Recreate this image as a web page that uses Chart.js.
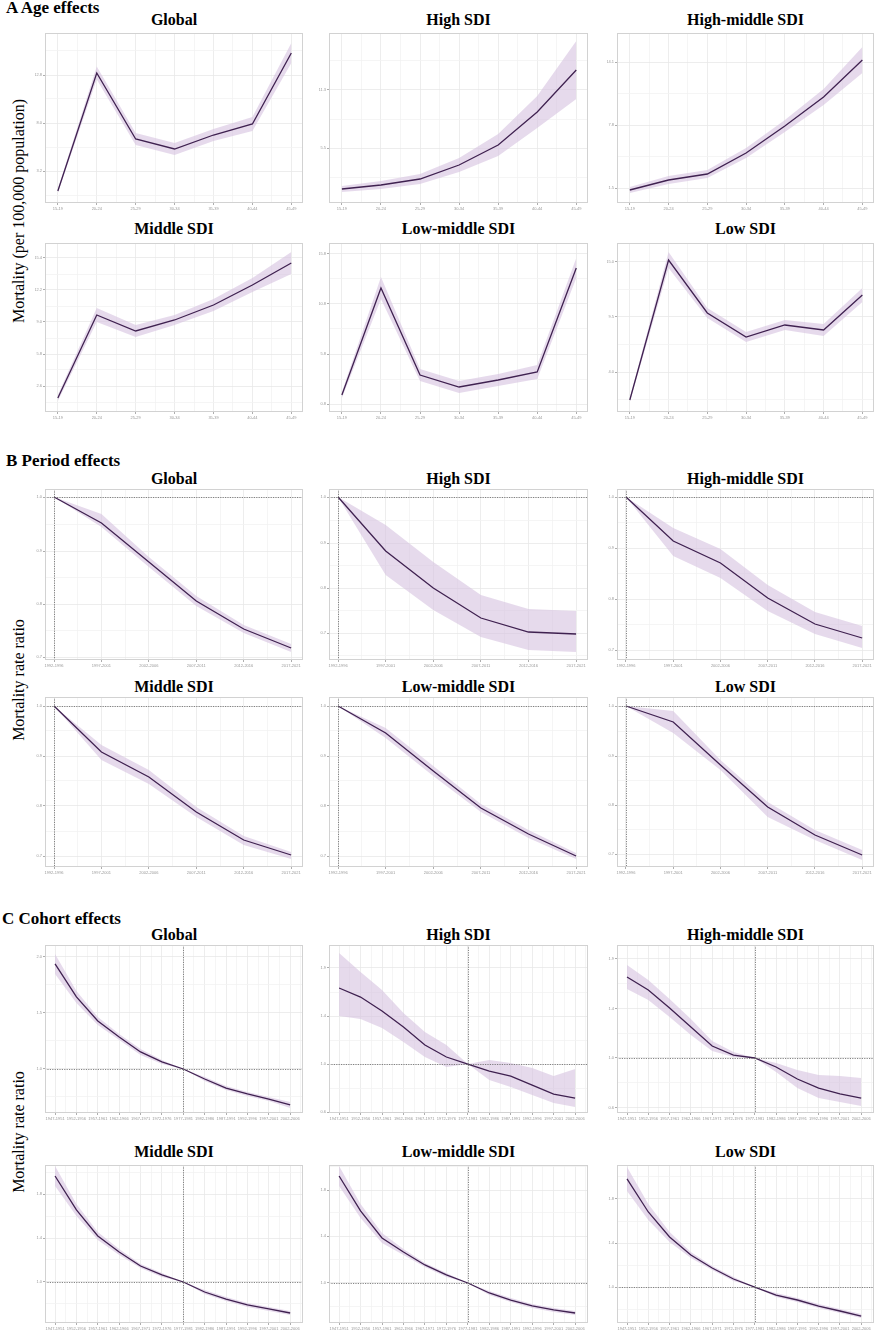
<!DOCTYPE html>
<html>
<head>
<meta charset="utf-8">
<script src="https://cdn.jsdelivr.net/npm/chart.js@4.4.1/dist/chart.umd.min.js"></script>
<style>
body { margin: 0; background: #fff; width: 878px; height: 1330px; position: relative; overflow: hidden;
       font-family: "Liberation Serif", "Times New Roman", serif; color: #000; }
.sec { position: absolute; font-weight: bold; font-size: 17px; line-height: 17px; white-space: nowrap; }
.ttl { position: absolute; font-weight: bold; font-size: 16px; line-height: 16px; text-align: center; white-space: nowrap; }
.ylab { position: absolute; font-size: 16px; line-height: 16px; white-space: nowrap;
        transform: translate(-50%, -50%) rotate(-90deg); }
canvas { position: absolute; }
</style>
</head>
<body>
<div class="sec" style="left:6px;top:-1px">A Age effects</div>
<div class="sec" style="left:6px;top:452px">B Period effects</div>
<div class="sec" style="left:2px;top:910px">C Cohort effects</div>
<div class="ylab" style="left:19px;top:211px">Mortality (per 100,000 population)</div>
<div class="ylab" style="left:19px;top:680px">Mortality rate ratio</div>
<div class="ylab" style="left:19px;top:1132px">Mortality rate ratio</div>
<script>
// labels
const regions = ['Global', 'High SDI', 'High-middle SDI', 'Middle SDI', 'Low-middle SDI', 'Low SDI'];
const ageGroups = ['15-19', '20-24', '25-29', '30-34', '35-39', '40-44', '45-49'];
const periods = ['1992-1996', '1997-2001', '2002-2006', '2007-2011', '2012-2016', '2017-2021'];
const cohorts = ['1947-1951', '1952-1956', '1957-1961', '1962-1966', '1967-1971', '1972-1976',
                 '1977-1981', '1982-1986', '1987-1991', '1992-1996', '1997-2001', '2002-2006'];

// A: age effects, mortality per 100,000 (estimate, lower, upper)
const ageGlobal = [1.2, 13.0, 6.4, 5.4, 6.8, 7.9, 15.0];
const ageGlobalLo = [1.0, 12.35, 5.8, 4.8, 6.2, 7.2, 14.0];
const ageGlobalHi = [1.4, 13.65, 7.0, 6.0, 7.4, 8.6, 16.0];
const ageHigh = [1.4, 1.8, 2.4, 3.8, 5.8, 9.1, 13.3];
const ageHighLo = [1.1, 1.4, 1.9, 3.1, 4.7, 7.5, 10.4];
const ageHighHi = [1.7, 2.2, 2.9, 4.5, 6.9, 10.7, 16.2];
const ageHighMid = [1.3, 2.3, 2.9, 5.0, 7.7, 10.6, 14.3];
const ageHighMidLo = [1.0, 1.9, 2.5, 4.5, 7.1, 9.8, 13.0];
const ageHighMidHi = [1.6, 2.7, 3.3, 5.5, 8.3, 11.4, 15.6];
const ageMiddle = [1.4, 9.7, 8.1, 9.2, 10.7, 12.7, 14.9];
const ageMiddleLo = [1.1, 9.0, 7.5, 8.7, 10.1, 12.0, 13.8];
const ageMiddleHi = [1.7, 10.4, 8.7, 9.7, 11.3, 13.4, 16.0];
const ageLowMid = [1.7, 12.4, 3.7, 2.5, 3.2, 4.0, 14.4];
const ageLowMidLo = [1.4, 11.3, 3.1, 1.9, 2.6, 3.3, 13.4];
const ageLowMidHi = [2.0, 13.5, 4.3, 3.1, 3.8, 4.7, 15.4];
const ageLow = [1.2, 15.2, 9.9, 7.5, 8.7, 8.2, 11.7];
const ageLowLo = [1.0, 14.4, 9.4, 7.0, 8.2, 7.6, 11.0];
const ageLowHi = [1.4, 16.0, 10.4, 8.0, 9.2, 8.8, 12.4];

// B: period effects, rate ratio
const perGlobal = [1.0, 0.948, 0.870, 0.792, 0.736, 0.698];
const perGlobalLo = [1.0, 0.940, 0.860, 0.782, 0.728, 0.690];
const perGlobalHi = [1.0, 0.966, 0.880, 0.802, 0.744, 0.706];
const perHigh = [1.0, 0.892, 0.818, 0.758, 0.730, 0.726];
const perHighLo = [1.0, 0.844, 0.774, 0.720, 0.694, 0.690];
const perHighHi = [1.0, 0.944, 0.870, 0.804, 0.776, 0.772];
const perHighMid = [1.0, 0.912, 0.868, 0.798, 0.746, 0.718];
const perHighMidLo = [1.0, 0.882, 0.838, 0.772, 0.726, 0.698];
const perHighMidHi = [1.0, 0.938, 0.896, 0.824, 0.770, 0.742];
const perMiddle = [1.0, 0.908, 0.858, 0.788, 0.732, 0.702];
const perMiddleLo = [1.0, 0.892, 0.844, 0.778, 0.722, 0.694];
const perMiddleHi = [1.0, 0.922, 0.872, 0.798, 0.740, 0.708];
const perLowMid = [1.0, 0.946, 0.870, 0.796, 0.744, 0.700];
const perLowMidLo = [1.0, 0.936, 0.860, 0.788, 0.736, 0.694];
const perLowMidHi = [1.0, 0.956, 0.880, 0.804, 0.752, 0.706];
const perLow = [1.0, 0.968, 0.882, 0.798, 0.742, 0.702];
const perLowLo = [1.0, 0.946, 0.872, 0.778, 0.732, 0.692];
const perLowHi = [1.0, 0.990, 0.892, 0.808, 0.752, 0.712];

// C: cohort effects, rate ratio
const cohGlobal = [1.955, 1.655, 1.436, 1.291, 1.155, 1.064, 1.0, 0.909, 0.827, 0.773, 0.727, 0.673];
const cohGlobalLo = [1.864, 1.600, 1.400, 1.264, 1.128, 1.046, 1.0, 0.891, 0.809, 0.755, 0.709, 0.646];
const cohGlobalHi = [2.046, 1.710, 1.472, 1.318, 1.182, 1.082, 1.0, 0.927, 0.845, 0.791, 0.745, 0.700];
const cohHigh = [1.691, 1.609, 1.482, 1.336, 1.173, 1.064, 1.0, 0.936, 0.891, 0.809, 0.727, 0.691];
const cohHighLo = [1.436, 1.409, 1.327, 1.200, 1.064, 0.973, 1.0, 0.855, 0.791, 0.718, 0.645, 0.609];
const cohHighHi = [2.009, 1.836, 1.673, 1.464, 1.291, 1.173, 1.0, 1.036, 1.009, 0.964, 0.891, 0.955];
const cohHighMid = [1.736, 1.618, 1.455, 1.282, 1.109, 1.027, 1.0, 0.918, 0.809, 0.727, 0.673, 0.636];
const cohHighMidLo = [1.627, 1.527, 1.373, 1.209, 1.064, 1.009, 1.0, 0.873, 0.727, 0.636, 0.600, 0.564];
const cohHighMidHi = [1.845, 1.709, 1.537, 1.355, 1.154, 1.054, 1.0, 0.955, 0.891, 0.845, 0.836, 0.818];
const cohMiddle = [1.964, 1.655, 1.418, 1.273, 1.145, 1.064, 1.0, 0.909, 0.845, 0.791, 0.755, 0.718];
const cohMiddleLo = [1.873, 1.600, 1.382, 1.246, 1.127, 1.046, 1.0, 0.891, 0.827, 0.773, 0.737, 0.700];
const cohMiddleHi = [2.055, 1.710, 1.454, 1.300, 1.163, 1.082, 1.0, 0.927, 0.863, 0.809, 0.773, 0.736];
const cohLowMid = [1.973, 1.655, 1.409, 1.282, 1.164, 1.073, 1.0, 0.909, 0.845, 0.791, 0.755, 0.727];
const cohLowMidLo = [1.882, 1.591, 1.364, 1.255, 1.146, 1.055, 1.0, 0.891, 0.827, 0.773, 0.737, 0.709];
const cohLowMidHi = [2.064, 1.719, 1.454, 1.309, 1.182, 1.091, 1.0, 0.927, 0.863, 0.809, 0.773, 0.745];
const cohLow = [1.982, 1.682, 1.455, 1.291, 1.173, 1.073, 1.0, 0.927, 0.882, 0.827, 0.782, 0.736];
const cohLowLo = [1.873, 1.609, 1.409, 1.264, 1.155, 1.055, 1.0, 0.909, 0.864, 0.809, 0.764, 0.718];
const cohLowHi = [2.091, 1.755, 1.500, 1.318, 1.191, 1.091, 1.0, 0.945, 0.900, 0.845, 0.800, 0.755];

// y tick values per panel
const ageTicks = [[3.2, 8.0, 12.8], [5.5, 11.3], [1.5, 7.8, 14.1], [2.6, 5.8, 9.0, 12.2, 15.4], [0.8, 5.8, 10.8, 15.8], [4.0, 9.5, 15.0]];
const perTicks = [[0.68, 0.786, 0.892, 1.0], [0.728, 0.818, 0.908, 1.0], [0.694, 0.796, 0.898, 1.0], [0.7, 0.8, 0.9, 1.0], [0.7, 0.8, 0.9, 1.0], [0.704, 0.802, 0.9, 1.0]];
const cohTicks = [[1.0, 1.509, 2.018], [0.564, 1.0, 1.436, 1.873], [0.55, 1.0, 1.45, 1.9], [1.0, 1.4, 1.8], [1.0, 1.427, 1.845], [1.0, 1.4, 1.8]];

// layout
const colX = [45, 329, 617];
const colW = [258, 259, 257];
const rowY = [33, 243, 489, 697, 945, 1165];
const rowH = [170, 169, 171, 170, 168, 158];
const titleY = [20, 229, 479, 687, 935, 1152];

const lineColor = '#3f2150';
const bandColor = 'rgba(214,196,224,0.62)';
Chart.defaults.font.family = '"Liberation Sans", Arial, sans-serif';

function refFrame(refX, refY) {
  return {
    id: 'refFrame',
    afterDatasetsDraw(chart) {
      const { ctx, chartArea: a, scales } = chart;
      ctx.save();
      ctx.strokeStyle = '#666';
      ctx.lineWidth = 0.8;
      ctx.setLineDash([1.2, 1.2]);
      if (refY !== null) {
        const y = Math.round(scales.y.getPixelForValue(refY)) + 0.5;
        ctx.beginPath(); ctx.moveTo(a.left, y); ctx.lineTo(a.right, y); ctx.stroke();
      }
      if (refX !== null) {
        const x = Math.round(scales.x.getPixelForValue(refX)) + 0.5;
        ctx.beginPath(); ctx.moveTo(x, a.top); ctx.lineTo(x, a.bottom); ctx.stroke();
      }
      ctx.setLineDash([]);
      ctx.strokeStyle = '#d2d2d2';
      ctx.lineWidth = 1;
      ctx.strokeRect(a.left + 0.5, a.top + 0.5, a.width - 1, a.height - 1);
      ctx.restore();
    }
  };
}

function withMinor(major, min, max) {
  const out = [];
  const step = major.length > 1 ? major[1] - major[0] : (max - min) / 2;
  const all = [major[0] - step / 2].concat(...major.map(v => [v, v + step / 2]));
  all.forEach((v, i) => {
    if (v >= min && v <= max) out.push({ value: v, minor: i % 2 === 0 });
  });
  return out;
}

function panel(row, col, labels, val, lo, hi, yTicks, xMin, xMax, yMin, yMax, refX, refY) {
  const x = colX[col], w = colW[col], y = rowY[row], h = rowH[row];
  const t = document.createElement('div');
  t.className = 'ttl';
  t.style.left = x + 'px';
  t.style.width = w + 'px';
  t.style.top = (titleY[row] - 8) + 'px';
  t.textContent = regions[(row % 2) * 3 + col];
  document.body.appendChild(t);

  const c = document.createElement('canvas');
  c.width = w + 11;
  c.height = h + 9;
  c.style.left = (x - 10) + 'px';
  c.style.top = (y - 1) + 'px';
  document.body.appendChild(c);

  const pts = arr => arr.map((v, i) => ({ x: i, y: v }));
  const xTicks = [];
  for (let i = 0; i < labels.length; i++) {
    xTicks.push({ value: i, minor: false });
    if (i + 0.5 <= xMax) xTicks.push({ value: i + 0.5, minor: true });
  }
  if (xMin <= -0.5) xTicks.unshift({ value: -0.5, minor: true });
  const gridColor = ctx => (ctx.tick && ctx.tick.minor) ? '#f3f3f3' : '#e8e8e8';
  const tickColor = ctx => (ctx.tick && ctx.tick.minor) ? 'rgba(0,0,0,0)' : '#999';

  new Chart(c, {
    type: 'line',
    data: {
      datasets: [
        { data: pts(val), borderColor: lineColor, borderWidth: 1.3, pointRadius: 0, fill: false, order: 0 },
        { data: pts(lo), borderWidth: 0, borderColor: 'rgba(0,0,0,0)', pointRadius: 0, fill: false, order: 2 },
        { data: pts(hi), borderWidth: 0, borderColor: 'rgba(0,0,0,0)', pointRadius: 0, fill: 1, backgroundColor: bandColor, order: 1 }
      ]
    },
    options: {
      responsive: false,
      animation: false,
      layout: { padding: { top: 1, right: 1, left: 0, bottom: 0 } },
      plugins: { legend: { display: false }, tooltip: { enabled: false } },
      scales: {
        x: {
          type: 'linear', min: xMin, max: xMax,
          afterBuildTicks: s => { s.ticks = xTicks.map(o => ({ ...o })); },
          afterFit: s => { s.height = 8; s.paddingLeft = 0; s.paddingRight = 0; },
          ticks: { font: { size: 4 }, color: '#999', padding: 1, maxRotation: 0, autoSkip: false,
                   callback: v => Number.isInteger(v) ? labels[v] : '' },
          grid: { color: gridColor, tickColor: tickColor, tickLength: 2, lineWidth: 0.8 },
          border: { display: false }
        },
        y: {
          min: yMin, max: yMax,
          afterBuildTicks: s => { s.ticks = withMinor(yTicks, yMin, yMax); },
          afterFit: s => { s.width = 10; s.paddingTop = 0; s.paddingBottom = 0; },
          ticks: { font: { size: 4 }, color: '#999', padding: 1, autoSkip: false,
                   callback: (v, i, ticks) => ticks[i].minor ? '' : v.toFixed(1) },
          grid: { color: gridColor, tickColor: tickColor, tickLength: 2, lineWidth: 0.8 },
          border: { display: false }
        }
      }
    },
    plugins: [refFrame(refX, refY)]
  });
}

// A
panel(0, 0, ageGroups, ageGlobal, ageGlobalLo, ageGlobalHi, ageTicks[0], -0.33, 6.3, 0, 17, null, null);
panel(0, 1, ageGroups, ageHigh, ageHighLo, ageHighHi, ageTicks[1], -0.33, 6.3, 0, 17, null, null);
panel(0, 2, ageGroups, ageHighMid, ageHighMidLo, ageHighMidHi, ageTicks[2], -0.33, 6.3, 0, 17, null, null);
panel(1, 0, ageGroups, ageMiddle, ageMiddleLo, ageMiddleHi, ageTicks[3], -0.33, 6.3, 0, 16.9, null, null);
panel(1, 1, ageGroups, ageLowMid, ageLowMidLo, ageLowMidHi, ageTicks[4], -0.33, 6.3, 0, 16.9, null, null);
panel(1, 2, ageGroups, ageLow, ageLowLo, ageLowHi, ageTicks[5], -0.33, 6.3, 0, 16.9, null, null);
// B
panel(2, 0, periods, perGlobal, perGlobalLo, perGlobalHi, perTicks[0], -0.19, 5.25, 0.674, 1.016, 0, 1);
panel(2, 1, periods, perHigh, perHighLo, perHighHi, perTicks[1], -0.19, 5.25, 0.674, 1.016, 0, 1);
panel(2, 2, periods, perHighMid, perHighMidLo, perHighMidHi, perTicks[2], -0.19, 5.25, 0.674, 1.016, 0, 1);
panel(3, 0, periods, perMiddle, perMiddleLo, perMiddleHi, perTicks[3], -0.19, 5.25, 0.678, 1.018, 0, 1);
panel(3, 1, periods, perLowMid, perLowMidLo, perLowMidHi, perTicks[4], -0.19, 5.25, 0.678, 1.018, 0, 1);
panel(3, 2, periods, perLow, perLowLo, perLowHi, perTicks[5], -0.19, 5.25, 0.678, 1.018, 0, 1);
// C
panel(4, 0, cohorts, cohGlobal, cohGlobalLo, cohGlobalHi, cohTicks[0], -0.47, 11.6, 0.6, 2.127, 6, 1);
panel(4, 1, cohorts, cohHigh, cohHighLo, cohHighHi, cohTicks[1], -0.47, 11.6, 0.555, 2.082, 6, 1);
panel(4, 2, cohorts, cohHighMid, cohHighMidLo, cohHighMidHi, cohTicks[2], -0.47, 11.6, 0.5, 2.027, 6, 1);
panel(5, 0, cohorts, cohMiddle, cohMiddleLo, cohMiddleHi, cohTicks[3], -0.47, 11.6, 0.627, 2.064, 6, 1);
panel(5, 1, cohorts, cohLowMid, cohLowMidLo, cohLowMidHi, cohTicks[4], -0.47, 11.6, 0.636, 2.073, 6, 1);
panel(5, 2, cohorts, cohLow, cohLowLo, cohLowHi, cohTicks[5], -0.47, 11.6, 0.673, 2.109, 6, 1);
</script>
</body>
</html>
